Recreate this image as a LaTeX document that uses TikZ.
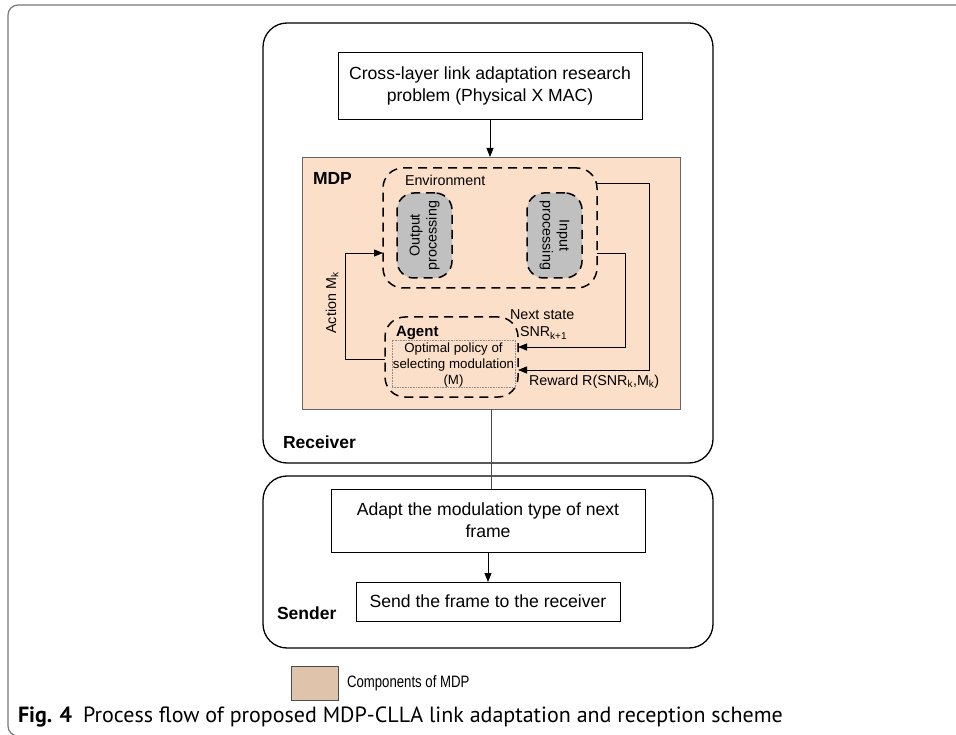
\documentclass[tikz,border=0pt]{standalone}
\usepackage{fontspec}
\setmainfont{Liberation Sans}
\newfontfamily\capfont{PT Sans}
\usetikzlibrary{arrows.meta}
\definecolor{mdpfill}{HTML}{FCDFC8}
\definecolor{legfill}{HTML}{DFC3AA}
\definecolor{procgray}{HTML}{C0C0C0}
\definecolor{framegray}{HTML}{777777}

\begin{document}
\begin{tikzpicture}[x=1pt,y=-1pt,
  every node/.style={inner sep=0pt, outer sep=0pt},
  panel/.style={draw, line width=1.3pt, rounded corners=24pt},
  procbox/.style={draw, line width=0.7pt, fill=white, align=center,
    font=\fontsize{17.6}{22}\selectfont},
  dashbox/.style={draw, line width=1.5pt, dash pattern=on 9pt off 6pt,
    rounded corners=20pt},
  procshape/.style={dashbox, fill=procgray, rounded corners=17pt},
  link/.style={line width=0.8pt},
  arr/.style={link, -{Triangle[length=9pt,width=7pt]}},
  lbl/.style={font=\fontsize{14.3}{17}\selectfont},
  head/.style={font=\fontsize{17.5}{20}\selectfont\bfseries},
]
\useasboundingbox (0,0) rectangle (956,735);

% page frame
\draw[framegray, line width=1.2pt, rounded corners=10pt]
  (956,5) -- (8,5) -- (8,736) -- (22,736);

% receiver and sender panels
\node[panel, minimum width=450pt, minimum height=440pt] (recv) at (488,243) {};
\node[panel, minimum width=450pt, minimum height=172pt] (send) at (488,562) {};

% problem statement
\node[procbox, minimum width=304pt, minimum height=67pt] (prob) at (490,85.5)
  {Cross-layer link adaptation research\\problem (Physical X MAC)};

% MDP block
\node[draw=black!60, line width=0.8pt, fill=mdpfill, minimum width=378pt,
  minimum height=252pt] (mdp) at (491.5,283) {};
\node[head, anchor=west] (mdplbl) at (313,178) {MDP};

% environment
\node[dashbox, minimum width=214pt, minimum height=120pt] (env) at (490,228) {};
\node[lbl, anchor=west] (envlbl) at (405,180) {Environment};
\node[procshape, minimum width=55pt, minimum height=85pt] (outp) at (424.5,235.5) {};
\node[lbl, rotate=90, align=center] (outtxt) at (424.5,235.5) {Output\\processing};
\node[procshape, minimum width=55pt, minimum height=85pt] (inp) at (554.5,235.5) {};
\node[lbl, rotate=-90, align=center] (intxt) at (554.5,235.5) {Input\\processing};

% agent
\node[dashbox, minimum width=133pt, minimum height=80pt] (agent) at (451.5,357) {};
\node[font=\fontsize{15}{18}\selectfont\bfseries, anchor=west] (agentlbl) at (396,333) {Agent};
\node[draw=black!45, densely dotted, line width=0.6pt, minimum width=123pt,
  minimum height=47pt] (policy) at (453.5,363.5) {};
\node[align=center, font=\fontsize{13.3}{15.8}\selectfont] (poltxt) at (453.5,365)
  {Optimal policy of\\selecting modulation\\(M)};

% feedback loops
\coordinate (rwA) at (649,183);
\coordinate (rwB) at (649,370);
\draw[arr] (env.east |- rwA) -- (rwA) -- (rwB) -- (agent.east |- rwB);
\coordinate (nsA) at (625,253);
\coordinate (nsB) at (625,347);
\draw[arr] (env.east |- nsA) -- (nsA) -- (nsB) -- (agent.east |- nsB);
\coordinate (acA) at (345,359);
\coordinate (acB) at (345,253);
\draw[arr] (agent.west |- acA) -- (acA) -- (acB) -- (env.west |- acB);

\node[lbl, anchor=west] (nslbl) at (510,315) {Next state};
\node[lbl, anchor=west] (snrlbl) at (520,333) {SNR\textsubscript{k+1}};
\node[lbl, anchor=west] (rwlbl) at (529,382) {Reward R(SNR\textsubscript{k},M\textsubscript{k})};
\node[lbl, rotate=90] (aclbl) at (332,303) {Action M\textsubscript{k}};

\node[head, anchor=west] (recvlbl) at (283,442) {Receiver};

% sender side
\node[procbox, minimum width=314pt, minimum height=63pt] (adapt) at (488,520.5)
  {Adapt the modulation type of next\\frame};
\node[procbox, minimum width=264pt, minimum height=39pt] (sendbox) at (488,601.5)
  {Send the frame to the receiver};
\node[head, anchor=west] (sendlbl) at (277,613) {Sender};

\draw[arr] (prob.south) -- (prob.south |- mdp.north);
\draw[link, black!70] (mdp.south) -- (mdp.south |- adapt.north);
\draw[arr] (adapt.south) -- (sendbox.north);

% legend
\node[draw=black!70, line width=0.8pt, fill=legfill, minimum width=47pt,
  minimum height=34pt] (legbox) at (314.5,683) {};
\node[anchor=west, font=\fontsize{16.5}{19}\selectfont] (legtxt) at (347,683)
  {\scalebox{0.8}[1]{Components of MDP}};

% caption
\node[anchor=base west, font=\capfont\fontsize{22}{25}\selectfont] (cap) at (18,722)
  {\textbf{Fig. 4}\hspace{0.5em}Process flow of proposed MDP-CLLA link adaptation and reception scheme};
\end{tikzpicture}
\end{document}
